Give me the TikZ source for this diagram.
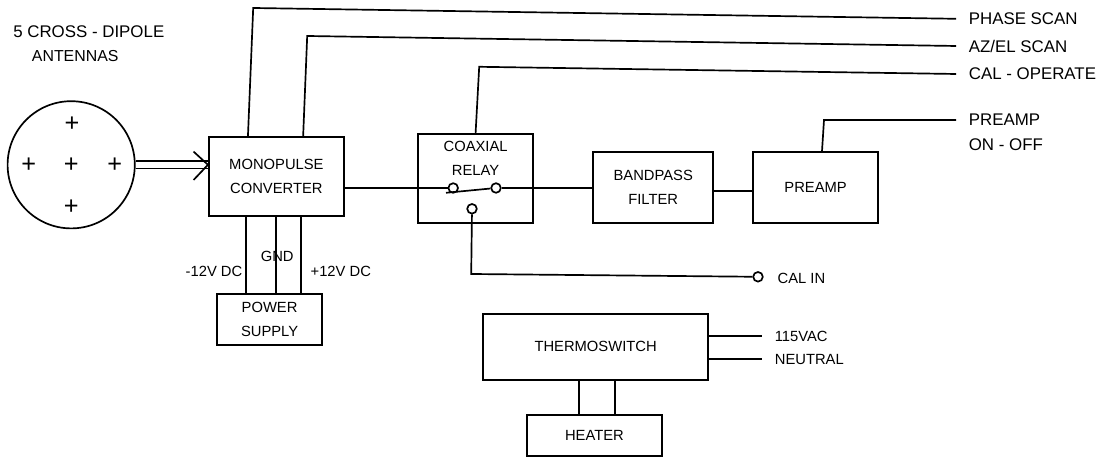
\documentclass[tikz,border=0pt]{standalone}
\usepackage{fontspec}
\setmainfont{Liberation Sans}
\usetikzlibrary{arrows.meta, positioning, calc}

\begin{document}
\begin{tikzpicture}[
    line width=1.2pt,
    block/.style={rectangle, draw, align=center, font=\fontsize{10.5}{17}\selectfont},
    txt/.style={font=\fontsize{10.5}{17}\selectfont, inner sep=0pt},
    big/.style={font=\fontsize{12}{17}\selectfont},
    tag/.style={txt, anchor=west, inner xsep=0.3cm},
    dipole/.style={font=\fontsize{18}{18}\selectfont, inner sep=0pt},
    contact/.style={circle, draw, fill=white, inner sep=0pt, minimum size=0.24cm}
]
    \useasboundingbox (0, 0) rectangle (27.6, 11.5);

    % antenna
    \node[circle, draw, minimum size=3.18cm] (ant) at (1.78, 7.38) {};
    \node[dipole] (d1) at (1.8, 8.4) {+};
    \node[dipole] (d2) at (0.72, 7.38) {+};
    \node[dipole] (d3) at (1.78, 7.38) {+};
    \node[dipole] (d4) at (2.87, 7.38) {+};
    \node[dipole] (d5) at (1.78, 6.33) {+};
    \node[txt, big] (antA) at (2.22, 10.7) {5 CROSS - DIPOLE};
    \node[txt, font=\fontsize{11.3}{17}\selectfont] (antB) at (1.88, 10.1) {ANTENNAS};

    % blocks
    \node[block, minimum width=3.38cm, minimum height=1.98cm] (mono) at (6.91, 7.09) {MONOPULSE\\CONVERTER};
    \node[block, minimum width=2.63cm, minimum height=1.28cm] (power) at (6.74, 3.51) {POWER\\SUPPLY};
    \node[draw, minimum width=2.88cm, minimum height=2.23cm] (relay) at (11.89, 7.04) {};
    \node[txt, align=center] (relayTxt) at (11.89, 7.55) {COAXIAL\\RELAY};
    \node[block, minimum width=3cm, minimum height=1.78cm] (band) at (16.33, 6.81) {BANDPASS\\FILTER};
    \node[block, minimum width=3.13cm, minimum height=1.78cm] (preamp) at (20.39, 6.81) {PREAMP};
    \node[block, minimum width=5.63cm, minimum height=1.65cm] (thermo) at (14.89, 2.83) {THERMOSWITCH};
    \node[block, minimum width=3.38cm, minimum height=1.03cm] (heater) at (14.86, 0.61) {HEATER};

    % contacts
    \node[contact] (conL) at (11.33, 6.8) {};
    \node[contact] (conR) at (12.4, 6.8) {};
    \node[contact] (conC) at (11.8, 6.28) {};
    \node[contact] (calIn) at (18.95, 4.58) {};
    \coordinate (arm) at (11.15, 6.68);

    % labels at the right
    \node[tag, big] (phase) at (23.9, 11.03) {PHASE SCAN};
    \node[tag, big] (azel) at (23.9, 10.35) {AZ/EL SCAN};
    \node[tag, big] (cal) at (23.9, 9.65) {CAL - OPERATE};
    \node[tag, big] (onA) at (23.9, 8.5) {PREAMP};
    \node[tag, big, inner xsep=0pt] (onB) at (24.2, 7.88) {ON - OFF};
    \node[tag, inner xsep=0pt] (calTxt) at (19.42, 4.55) {CAL IN};
    \node[tag] (ac) at (19.05, 3.1) {115VAC};
    \node[tag] (neutral) at (19.05, 2.52) {NEUTRAL};
    \node[txt] (m12) at (5.35, 4.72) {-12V DC};
    \node[txt] (gnd) at (6.93, 5.1) {GND};
    \node[txt] (p12) at (8.52, 4.72) {+12V DC};

    % bends
    \coordinate (bendA) at (6.33, 11.3);
    \coordinate (bendB) at (7.68, 10.6);
    \coordinate (bendC) at (11.98, 9.83);
    \coordinate (bendD) at (20.6, 8.5);
    \coordinate (bendE) at (11.78, 4.65);

    % wires
    \coordinate (tip) at (mono.west |- ant.east);
    \coordinate (headA) at ($(tip)+(-0.36, 0.33)$);
    \coordinate (headB) at ($(tip)+(-0.36, -0.38)$);
    \draw[double, double distance=0.15cm] (ant.east) -- (tip);
    \draw (headA) -- (tip) -- (headB);
    \draw ($(mono.north west)+(1, 0)$) -- (bendA) -- (phase.west);
    \draw ($(mono.north west)+(2.38, 0)$) -- (bendB) -- (azel.west);
    \draw (relay.north) -- (bendC) -- (cal.west);
    \draw ($(preamp.north)+(0.16, 0)$) -- (bendD) -- (onA.west);
    \draw (mono.east |- conL) -- (conL);
    \draw (arm) -- (conR);
    \draw (conR) -- (band.west |- conR);
    \draw ($(band.east)+(0, -0.08)$) -- ($(preamp.west)+(0, -0.08)$);
    \draw (conC) -- (bendE) -- (calIn);
    \draw (thermo.east |- ac) -- (ac.west);
    \draw (thermo.east |- neutral) -- (neutral.west);

    \foreach \name/\dx in {wireA/0.95, wireB/1.7, wireC/2.33} {
        \coordinate (\name) at ($(mono.south west)+(\dx, 0)$);
        \draw (\name) -- (\name |- power.north);
    }
    \foreach \name/\dx in {wireD/1.33, wireE/2.23} {
        \coordinate (\name) at ($(heater.north west)+(\dx, 0)$);
        \draw (\name) -- (\name |- thermo.south);
    }
\end{tikzpicture}
\end{document}
